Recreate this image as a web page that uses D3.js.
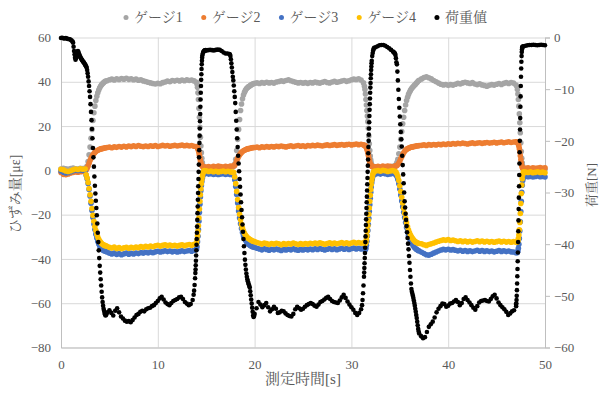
<!DOCTYPE html>
<html>
<head>
<meta charset="utf-8">
<script src="https://cdnjs.cloudflare.com/ajax/libs/d3/7.8.5/d3.min.js"></script>
<style>
  body { margin: 0; background: #fff; }
  svg { display: block; }
</style>
</head>
<body>
<svg id="chart" width="601" height="394"></svg>
<script>
// 系列名と軸目盛
const seriesNames = ['ゲージ1', 'ゲージ2', 'ゲージ3', 'ゲージ4', '荷重値'];
const strainTicks = [-80, -60, -40, -20, 0, 20, 40, 60];
const loadTicks = [-60, -50, -40, -30, -20, -10, 0];
const timeTicks = [0, 10, 20, 30, 40, 50];

// ゲージ側のサンプリング区間（開始時刻[s]と間隔[s]）
const gaugeSegStart = [0, 2.6, 4.75, 14.05, 15.0, 17.85, 20.0, 31.35, 32.5, 34.6, 37.25, 47.1, 48.0];
const gaugeSegStep = [0.25, 0.1, 0.25, 0.05, 0.25, 0.1, 0.25, 0.05, 0.25, 0.1, 0.25, 0.05, 0.25];

// ひずみ量[με]（区間ごと）
const gauge1 = [
  [0.6,0.9,0.7,0.5,0.8,1.0,0.7,0.6,0.9,0.8,1.0],
  [1.0,2.0,4.0,7.0,10.5,14.5,18.5,22.5,26.0,29.0,31.5,33.5,35.0,36.3,37.3,38.1,38.7,39.2,39.6,40.0,40.3],
  [40.5,40.9,41.2,40.8,41.4,41.0,41.5,41.2,41.6,41.1,41.4,40.9,41.2,40.7,40.9,40.4,40.1,39.8,39.5,39.2,39.0,39.3,39.1,39.6,39.9,40.3,40.0,40.6,40.3,40.7,40.4,40.8,40.5,40.9,40.6,40.8,40.4,39.8],
  [39.0,37.5,35.0,32.0,28.0,24.0,19.5,15.0,11.0,8.0,5.5,3.5,2.3,1.6,1.2,1.0],
  [1.0,1.3,1.1,1.4,1.2,1.5,1.3,1.1,1.4,1.2,1.5,1.6],
  [1.8,2.8,5.0,9.0,14.0,18.5,23.0,27.0,30.0,32.3,34.0,35.2,36.1,36.8,37.3,37.7,38.0,38.3,38.6,38.9,39.1],
  [39.3,39.5,39.2,39.6,39.4,39.8,39.5,39.7,39.4,39.9,40.1,40.4,40.2,40.6,40.9,40.5,40.1,39.8,39.5,39.7,39.4,39.6,39.3,39.7,39.5,39.9,39.6,39.4,39.8,40.1,39.7,39.5,39.9,40.2,39.8,40.0,40.3,40.6,40.2,40.5,40.9,41.2,41.0,41.4,40.8,39.5],
  [38.0,36.5,34.5,32.0,29.5,27.0,24.5,22.0,19.0,15.5,12.0,9.0,6.5,4.6,3.3,2.5,2.0,1.7,1.5,1.4,1.3],
  [1.2,1.5,1.3,1.6,1.4,1.7,1.5,1.8,2.0],
  [2.5,3.5,5.0,7.5,10.5,14.0,17.5,21.0,24.0,27.0,29.5,31.5,33.0,34.3,35.3,36.1,36.8,37.4,37.9,38.4,38.8,39.3,39.8,40.3,40.7],
  [41.3,41.9,42.2,41.8,41.3,40.6,40.0,39.4,38.9,38.6,38.8,38.4,38.7,38.5,38.9,39.3,39.0,39.5,39.8,39.5,39.2,39.6,39.0,38.7,39.1,38.6,38.3,38.0,38.4,38.7,38.5,38.9,39.2,38.8,39.3,39.6,39.2,39.7,39.4,38.5],
  [38.0,36.5,34.5,32.0,29.0,25.5,21.5,17.0,12.5,8.5,5.5,3.3,1.8,0.9,0.4],
  [0.3,0.6,0.4,0.7,0.5,0.3,0.6,0.4,0.5]
];
const gauge2 = [
  [-1.0,-1.8,-2.0,-1.6,-1.2,-0.9,-0.7,-0.8,-0.6,-0.5,-0.3],
  [0.2,1.0,2.0,3.2,4.4,5.4,6.3,7.0,7.6,8.1,8.5,8.8,9.1,9.3,9.5,9.7,9.8,9.9,10.0,10.1,10.2],
  [10.3,10.5,10.2,10.6,10.4,10.8,10.5,10.9,10.6,11.0,10.7,11.1,10.8,11.2,10.9,10.7,11.0,10.8,11.1,10.9,11.2,10.8,11.0,11.3,11.0,11.2,10.9,11.1,11.3,11.0,11.2,11.4,11.1,11.3,11.0,11.2,10.9,10.8],
  [10.6,10.2,9.7,9.0,8.0,6.8,5.5,4.3,3.4,2.7,2.2,1.9,1.7,1.6,1.5,1.5],
  [1.5,1.7,1.4,1.8,1.6,1.9,1.7,1.5,1.8,1.6,1.9,2.0],
  [2.0,2.3,3.2,4.3,5.4,6.3,7.0,7.6,8.1,8.5,8.8,9.1,9.3,9.5,9.7,9.8,9.9,10.0,10.1,10.2,10.3],
  [10.3,10.5,10.2,10.6,10.4,10.7,10.5,10.8,10.6,10.9,10.7,11.0,10.8,10.6,10.9,11.1,10.8,11.0,11.2,10.9,11.1,10.8,11.2,11.0,11.3,11.1,11.4,11.2,11.0,11.3,11.5,11.2,11.4,11.6,11.3,11.5,11.7,11.4,11.6,11.8,11.5,11.7,11.9,11.6,11.8,11.5],
  [11.3,11.2,11.0,10.7,10.3,9.7,8.9,7.9,6.8,5.6,4.5,3.6,2.9,2.4,2.1,1.9,1.8,1.7,1.7,1.6,1.6],
  [1.6,1.8,1.5,1.9,1.7,2.0,1.8,1.6,1.9],
  [2.0,2.2,2.6,3.3,4.2,5.2,6.2,7.1,7.9,8.6,9.1,9.5,9.8,10.0,10.2,10.4,10.5,10.6,10.7,10.8,10.9,11.0,11.1,11.1,11.2],
  [11.3,11.5,11.2,11.6,11.4,11.7,11.5,11.8,11.6,11.9,11.7,12.0,11.8,12.1,11.9,12.2,12.0,12.3,12.1,11.9,12.2,12.4,12.1,12.3,12.5,12.2,12.4,12.6,12.3,12.5,12.7,12.4,12.6,12.8,12.5,12.7,12.9,12.6,12.8,12.9],
  [12.8,12.6,12.3,11.8,11.0,9.8,8.3,6.6,4.9,3.4,2.2,1.4,0.9,0.6,0.4],
  [0.9,1.1,0.8,1.2,0.9,1.0,1.3,0.9,1.1]
];
const gauge3 = [
  [-0.3,-0.8,-1.2,-1.0,-0.6,-0.2,0.1,-0.1,0.2,0.0,0.1],
  [-2.2,-3.8,-5.9,-8.7,-11.6,-14.8,-18.1,-21.3,-24.2,-26.7,-28.8,-30.6,-32.1,-33.3,-34.2,-34.9,-35.5,-35.9,-36.2,-36.4,-36.5],
  [-36.9,-37.4,-37.8,-37.3,-38.0,-37.6,-38.1,-37.7,-37.4,-37.9,-37.5,-37.8,-37.3,-37.6,-37.1,-37.4,-37.0,-37.3,-36.9,-37.2,-36.8,-36.5,-36.9,-36.6,-36.3,-36.7,-36.4,-36.8,-36.5,-36.9,-36.6,-36.3,-36.7,-36.4,-36.2,-36.5,-36.1,-35.6],
  [-34.5,-32.2,-29.8,-26.8,-23.0,-19.0,-15.3,-12.0,-9.2,-6.8,-5.0,-3.6,-2.6,-1.9,-1.5,-1.3],
  [-1.4,-1.7,-1.5,-1.8,-1.6,-1.9,-1.7,-1.5,-1.8,-1.6,-1.9,-2.0],
  [-2.2,-4.2,-7.3,-10.9,-14.7,-18.4,-21.5,-24.1,-26.3,-28.1,-29.5,-30.6,-31.5,-32.2,-32.8,-33.2,-33.6,-33.9,-34.2,-34.4,-34.6],
  [-34.8,-35.2,-35.5,-35.9,-35.4,-35.7,-36.1,-35.6,-35.9,-35.5,-35.8,-36.2,-35.7,-36.0,-35.6,-35.9,-35.4,-35.8,-36.1,-35.7,-36.0,-35.6,-35.9,-35.5,-35.8,-35.4,-35.7,-35.3,-35.6,-36.0,-35.6,-35.3,-35.7,-35.4,-35.8,-35.5,-35.2,-35.6,-35.3,-35.7,-35.4,-35.1,-35.5,-35.2,-35.5,-35.3],
  [-35.4,-35.6,-35.8,-35.2,-33.8,-32.0,-29.7,-27.2,-24.5,-21.6,-18.6,-15.5,-12.6,-9.9,-7.5,-5.6,-4.1,-3.0,-2.2,-1.7,-1.4],
  [-1.6,-1.4,-1.7,-1.3,-1.5,-1.8,-1.6,-1.4,-1.7],
  [-2.0,-2.8,-4.1,-6.0,-8.4,-11.1,-13.8,-16.4,-18.9,-21.3,-23.6,-25.8,-27.7,-29.3,-30.6,-31.7,-32.6,-33.4,-34.1,-34.7,-35.2,-35.6,-35.9,-36.2,-36.4],
  [-37.0,-37.6,-38.1,-38.3,-37.9,-37.4,-36.9,-36.4,-36.0,-35.7,-35.9,-35.6,-36.0,-35.8,-36.1,-36.4,-36.1,-36.5,-36.2,-36.6,-36.3,-36.7,-36.4,-36.1,-36.5,-36.2,-36.6,-36.3,-36.7,-36.4,-36.8,-36.5,-36.2,-36.6,-36.3,-36.7,-36.4,-36.8,-36.9,-37.2],
  [-37.2,-37.0,-36.4,-35.2,-33.4,-30.8,-27.4,-23.2,-18.6,-14.0,-9.9,-6.7,-4.6,-3.4,-2.8],
  [-2.6,-2.9,-2.7,-3.0,-2.8,-2.5,-2.9,-2.7,-3.0]
];
const gauge4 = [
  [0.5,0.2,-0.3,-0.5,-0.2,0.3,0.6,0.4,0.7,0.5,0.6],
  [-2.0,-3.5,-5.5,-8.2,-11.0,-14.0,-17.2,-20.3,-23.0,-25.3,-27.2,-28.8,-30.1,-31.1,-31.9,-32.5,-33.0,-33.4,-33.7,-33.9,-34.0],
  [-34.3,-34.8,-35.1,-34.6,-35.3,-34.9,-35.4,-35.0,-34.7,-35.2,-34.8,-35.1,-34.6,-34.9,-34.4,-34.7,-34.3,-34.6,-34.2,-34.5,-34.1,-33.8,-34.2,-33.9,-33.6,-34.0,-33.7,-34.1,-33.8,-34.2,-33.9,-33.6,-34.0,-33.7,-33.5,-33.8,-33.4,-33.0],
  [-31.5,-29.5,-27.5,-25.0,-21.5,-17.5,-14.0,-11.0,-8.3,-6.0,-4.2,-2.8,-1.7,-0.9,-0.4,-0.1],
  [-0.2,-0.5,-0.3,-0.6,-0.4,-0.7,-0.5,-0.3,-0.6,-0.4,-0.7,-0.8],
  [-1.0,-3.0,-6.0,-9.5,-13.2,-16.8,-19.8,-22.3,-24.4,-26.1,-27.4,-28.4,-29.2,-29.8,-30.3,-30.7,-31.0,-31.3,-31.6,-31.8,-32.0],
  [-32.2,-32.6,-32.9,-33.3,-32.8,-33.1,-33.5,-33.0,-33.3,-32.9,-33.2,-33.6,-33.1,-33.4,-33.0,-33.3,-32.8,-33.2,-33.5,-33.1,-33.4,-33.0,-33.3,-32.9,-33.2,-32.8,-33.1,-32.7,-33.0,-33.4,-33.0,-32.7,-33.1,-32.8,-33.2,-32.9,-32.6,-33.0,-32.7,-33.1,-32.8,-32.5,-32.9,-32.6,-32.9,-32.7],
  [-32.6,-32.8,-33.0,-32.5,-31.2,-29.5,-27.3,-25.0,-22.5,-19.8,-17.0,-14.0,-11.2,-8.6,-6.4,-4.6,-3.1,-2.0,-1.2,-0.7,-0.4],
  [-0.3,-0.1,-0.4,0.0,-0.2,-0.5,-0.3,-0.1,-0.4],
  [-0.8,-1.5,-2.8,-4.6,-7.0,-9.6,-12.2,-14.7,-17.1,-19.4,-21.6,-23.7,-25.5,-27.0,-28.2,-29.2,-30.0,-30.7,-31.3,-31.8,-32.2,-32.5,-32.7,-32.9,-33.0],
  [-33.2,-33.6,-33.9,-33.5,-33.2,-32.8,-32.4,-32.0,-31.7,-31.4,-31.6,-31.3,-31.7,-31.5,-31.8,-32.1,-31.8,-32.2,-31.9,-32.3,-32.0,-32.4,-32.1,-31.8,-32.2,-31.9,-32.3,-32.0,-32.4,-32.1,-32.5,-32.2,-31.9,-32.3,-32.0,-32.4,-32.1,-32.5,-32.2,-32.4],
  [-32.4,-32.3,-31.8,-30.8,-29.2,-26.8,-23.5,-19.5,-15.0,-10.5,-6.6,-3.8,-2.0,-1.1,-0.6],
  [-0.8,-1.0,-0.7,-1.1,-0.9,-0.6,-1.0,-0.8,-1.1]
];

// 荷重値のサンプリング区間
const loadSegStart = [0, 1.25, 2.65, 4.8, 13.7, 13.88, 14.65, 15.0, 17.45, 17.8, 20.2, 31.1, 31.32, 32.15, 32.5, 34.35, 34.7, 37.2, 47.02, 47.8];
const loadSegStep = [0.1, 0.05, 0.05, 0.2, 0.05, 0.02, 0.05, 0.2, 0.05, 0.05, 0.2, 0.05, 0.02, 0.05, 0.2, 0.05, 0.05, 0.2, 0.02, 0.2];

// 荷重[N]（区間ごと）
const load = [
  [-0.1,-0.05,-0.1,-0.2,-0.15,-0.1,-0.2,-0.3,-0.3,-0.35,-0.45,-0.6,-0.8],
  [-1.0,-1.8,-2.6,-3.3,-3.9,-4.3,-4.0,-3.5,-3.0,-2.7,-2.6,-2.8,-3.1,-3.4,-3.6,-3.8,-4.0,-4.1,-4.3,-4.4,-4.6,-4.7,-4.8,-5.0,-5.1,-5.3,-5.4,-5.6],
  [-5.8,-6.3,-6.9,-7.6,-8.5,-9.4,-10.4,-11.5,-12.9,-14.4,-16.0,-17.7,-19.5,-21.4,-23.2,-25.0,-26.9,-28.7,-30.2,-31.6,-33.0,-34.4,-36.0,-37.8,-39.6,-41.2,-42.7,-44.2,-45.5,-46.8,-48.0,-49.2,-50.3,-51.2,-51.9,-52.5,-52.9,-53.3,-53.6,-53.8,-53.7,-53.5],
  [-53.2,-52.8,-53.3,-53.8,-52.9,-52.4,-53.2,-54.0,-54.4,-54.8,-55.0,-54.9,-55.1,-54.7,-54.2,-53.7,-53.5,-53.1,-52.9,-53.0,-52.6,-52.4,-52.3,-52.0,-51.8,-51.4,-51.0,-50.5,-50.2,-50.7,-51.3,-51.6,-51.8,-51.4,-51.0,-50.8,-50.6,-50.3,-50.2,-50.6,-51.2,-51.5,-51.8,-51.6,-50.8],
  [-49.8,-49.0,-47.9,-46.6],
  [-45.6,-44.9,-44.1,-43.2,-42.2,-41.2,-40.1,-39.0,-37.8,-36.6,-35.3,-34.0,-32.7,-31.4,-30.1,-28.8,-27.4,-26.0,-24.6,-23.2,-21.8,-20.4,-19.0,-17.6,-16.2,-14.8,-13.4,-12.0,-10.7,-9.4,-8.2,-7.1,-6.1,-5.2,-4.5,-3.9,-3.5],
  [-3.1,-2.8,-2.65,-2.55,-2.5,-2.5,-2.45],
  [-2.5,-2.45,-2.4,-2.45,-2.5,-2.4,-2.35,-2.4,-2.6,-2.9,-3.1,-3.1,-3.2],
  [-3.3,-3.6,-4.2,-5.0,-5.8,-6.7,-7.6],
  [-8.3,-9.3,-10.4,-11.5,-12.7,-14.4,-16.1,-17.8,-19.5,-21.2,-22.9,-24.4,-25.9,-27.4,-28.9,-30.4,-31.9,-33.4,-34.8,-36.2,-37.6,-39.0,-40.4,-41.7,-43.0,-44.0,-44.9,-45.7,-46.3,-46.8,-47.2,-47.5,-47.8,-48.1,-48.4,-49.1,-49.9,-50.7,-51.5,-52.3,-53.1,-53.8,-54.1,-53.9,-53.5],
  [-52.4,-51.2,-51.7,-52.2,-51.8,-51.4,-52.2,-53.0,-52.6,-52.1,-52.5,-53.3,-53.2,-52.9,-53.0,-53.4,-53.7,-53.9,-54.0,-53.5,-52.6,-52.1,-52.4,-52.7,-52.5,-52.1,-51.8,-51.6,-51.4,-51.6,-51.9,-52.1,-51.7,-51.2,-51.0,-50.7,-50.4,-50.2,-50.6,-51.0,-51.2,-51.3,-51.4,-50.9,-50.3,-49.8,-50.4,-51.1,-51.7,-52.2,-52.7,-53.3,-53.7,-53.3,-52.6],
  [-51.8,-50.8,-49.5,-48.0,-46.3],
  [-45.5,-44.6,-43.7,-42.7,-41.7,-40.7,-39.6,-38.5,-37.4,-36.3,-35.2,-34.1,-33.0,-31.9,-30.8,-29.6,-28.4,-27.2,-26.0,-24.8,-23.6,-22.4,-21.2,-20.0,-18.8,-17.6,-16.4,-15.2,-14.0,-12.9,-11.8,-10.7,-9.7,-8.8,-7.9,-7.1,-6.3,-5.6,-5.0,-4.5],
  [-3.6,-3.0,-2.5,-2.2,-2.0],
  [-1.9,-1.7,-1.5,-1.45,-1.45,-1.6,-1.85,-2.1,-2.4,-2.7],
  [-2.8,-2.9,-3.0,-3.1,-3.4,-4.0,-4.8],
  [-5.2,-6.6,-8.3,-10.1,-11.9,-13.6,-15.3,-16.8,-18.3,-19.7,-21.1,-22.9,-24.7,-26.5,-28.2,-30.0,-31.7,-32.9,-34.1,-35.3,-36.5,-37.7,-38.8,-39.9,-41.0,-42.3,-43.6,-45.0,-46.3,-47.6,-48.7,-49.2,-49.6,-50.0,-50.4,-50.9,-51.4,-51.9,-52.5,-53.1,-53.7,-54.3,-55.0,-55.7,-56.4,-56.9,-57.3],
  [-57.8,-58.2,-58.0,-57.0,-56.0,-55.5,-55.0,-54.2,-53.2,-52.5,-52.0,-51.5,-51.6,-52.1,-51.9,-51.5,-51.4,-51.1,-50.8,-51.2,-51.8,-51.4,-50.6,-50.3,-50.8,-51.3,-51.8,-52.3,-52.7,-52.0,-51.3,-51.0,-50.9,-50.8,-51.0,-51.1,-50.6,-50.1,-49.8,-50.5,-51.3,-51.8,-52.2,-52.6,-53.1,-53.7,-53.4,-53.0,-52.8,-51.6],
  [-52.0,-51.5,-50.8,-50.0,-48.9,-47.6,-46.2,-44.8,-43.3,-41.6,-39.6,-37.5,-35.4,-33.2,-31.0,-28.8,-26.6,-24.4,-22.2,-20.0,-17.8,-15.6,-13.4,-11.4,-9.4,-7.6,-6.0,-4.7,-3.6,-2.8,-2.3,-2.0,-1.9,-1.8,-1.75],
  [-1.7,-1.6,-1.5,-1.45,-1.45,-1.4,-1.45,-1.5,-1.45,-1.4,-1.45,-1.5]
];

const colors = ['#a5a5a5', '#ed7d31', '#4472c4', '#ffc000', '#000000'];
const fontFamily = "'Liberation Serif', 'Noto Serif CJK JP', serif";
const textColor = '#595959';
const gridColor = '#d9d9d9';
const axisColor = '#bfbfbf';

const width = 601, height = 394;
const margin = {top: 37.5, right: 56, bottom: 46.5, left: 61};
const plotW = width - margin.left - margin.right;
const plotH = height - margin.top - margin.bottom;

// 区間データを [時刻, 値] に展開
function expand(starts, steps, segs) {
  let pts = [];
  segs.forEach((seg, k) => {
    seg.forEach((v, i) => pts.push([starts[k] + i * steps[k], v]));
  });
  return pts;
}

function styleText(sel, size) {
  return sel.style('font-family', fontFamily).style('font-size', size + 'px').style('fill', textColor);
}

const svg = d3.select('#chart');
const g = svg.append('g').attr('transform', `translate(${margin.left},${margin.top})`);

const x = d3.scaleLinear().domain([0, 50]).range([0, plotW]);
const yL = d3.scaleLinear().domain([-80, 60]).range([plotH, 0]);
const yR = d3.scaleLinear().domain([-60, 0]).range([plotH, 0]);

/*グリッド*/
g.append('g')
  .call(d3.axisLeft(yL).tickValues(strainTicks).tickSize(-plotW).tickFormat(''))
  .call(s => s.select('.domain').remove())
  .selectAll('line').attr('stroke', gridColor);
g.append('g')
  .call(d3.axisTop(x).tickValues(timeTicks).tickSize(-plotH).tickFormat(''))
  .call(s => s.select('.domain').remove())
  .selectAll('line').attr('stroke', gridColor);

/*軸*/
function styleAxis(sel) {
  sel.select('.domain').attr('stroke', axisColor);
  sel.selectAll('line').attr('stroke', axisColor);
  styleText(sel.selectAll('text'), 13);
}
g.append('g')
  .call(d3.axisLeft(yL).tickValues(strainTicks).tickSize(0).tickPadding(10))
  .call(styleAxis);
g.append('g')
  .attr('transform', `translate(0,${plotH})`)
  .call(d3.axisBottom(x).tickValues(timeTicks).tickSize(0).tickPadding(12))
  .call(styleAxis);
g.append('g')
  .attr('transform', `translate(${plotW},0)`)
  .call(d3.axisRight(yR).tickValues(loadTicks).tickSize(5).tickPadding(4))
  .call(styleAxis);

/*散布図*/
const gaugeData = [gauge1, gauge2, gauge3, gauge4];
gaugeData.forEach((segs, i) => {
  g.append('g')
    .selectAll('circle')
    .data(expand(gaugeSegStart, gaugeSegStep, segs))
    .enter()
    .append('circle')
    .attr('cx', d => x(d[0]))
    .attr('cy', d => yL(d[1]))
    .attr('r', 2.8)
    .attr('fill', colors[i]);
});
g.append('g')
  .selectAll('circle')
  .data(expand(loadSegStart, loadSegStep, load))
  .enter()
  .append('circle')
  .attr('cx', d => x(d[0]))
  .attr('cy', d => yR(d[1]))
  .attr('r', 2.3)
  .attr('fill', colors[4]);

/*軸タイトル*/
svg.append('text')
  .attr('x', margin.left + plotW / 2)
  .attr('y', 384)
  .attr('text-anchor', 'middle')
  .call(styleText, 15)
  .text('測定時間[s]');
svg.append('text')
  .attr('transform', 'translate(15,194) rotate(-90)')
  .attr('text-anchor', 'middle').attr('dy', '0.35em')
  .call(styleText, 14)
  .text('ひずみ量[με]');
svg.append('text')
  .attr('transform', 'translate(591,185) rotate(-90)')
  .attr('text-anchor', 'middle').attr('dy', '0.35em')
  .call(styleText, 13)
  .text('荷重[N]');

/*凡例*/
const legend = svg.append('g').attr('transform', 'translate(126,17.5)');
let cursor = 0;
seriesNames.forEach((name, i) => {
  const item = legend.append('g').attr('transform', `translate(${cursor},0)`);
  item.append('circle').attr('r', 2.5).attr('fill', colors[i]);
  const t = item.append('text')
    .attr('x', 8).attr('dy', '0.35em')
    .call(styleText, 14)
    .text(name);
  cursor += 8 + t.node().getComputedTextLength() + 21;
});
</script>
</body>
</html>
